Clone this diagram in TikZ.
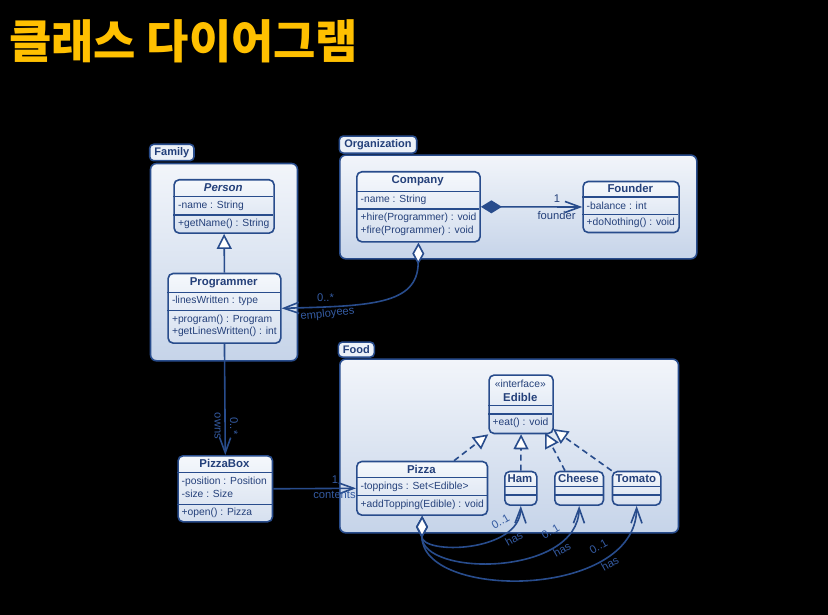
\documentclass[tikz,border=0pt]{standalone}
\usepackage{fontspec}
\usetikzlibrary{arrows.meta,calc}

\newfontfamily\umlfont{Liberation Sans}
\newfontfamily\krfont{Noto Sans CJK KR}

\definecolor{titlegold}{RGB}{255,192,0}
\definecolor{umlblue}{RGB}{40,76,140}
\definecolor{umltext}{RGB}{36,64,122}
\definecolor{lblblue}{RGB}{52,90,160}
\definecolor{pkgtop}{RGB}{242,245,250}
\definecolor{pkgbot}{RGB}{198,212,233}
\definecolor{boxtop}{RGB}{245,248,252}
\definecolor{boxbot}{RGB}{214,224,239}
\definecolor{tabfill}{RGB}{236,241,248}

\newcommand\ufMember{\umlfont\fontsize{10.3}{12.6}\selectfont}
\newcommand\ufName{\umlfont\bfseries\fontsize{11.4}{13.6}\selectfont}
\newcommand\ufLabel{\umlfont\fontsize{11.2}{13}\selectfont}
\newcommand\ufTab{\umlfont\bfseries\fontsize{11}{13}\selectfont}
\newcommand\ufTitle{\krfont\bfseries\fontsize{46}{50}\selectfont}

% class box: name, left, top, right, bottom
\newcommand\umlclass[5]{%
  \node[classbox, anchor=north west, minimum width={#4-#2}, minimum height={#5-#3}] (#1) at (#2,#3) {};}
% compartment divider: left, right, y
\newcommand\umldiv[3]{\draw[divider] (#1,#3) -- (#2,#3);}

\tikzset{
  pkg/.style={draw=umlblue, line width=1.6pt, rounded corners=6pt, top color=pkgtop, bottom color=pkgbot, inner sep=0pt},
  pkgtab/.style={draw=umlblue, line width=1.6pt, rounded corners=4pt, fill=tabfill, font=\ufTab, text=umltext, inner sep=0pt},
  classbox/.style={draw=umlblue, line width=1.6pt, rounded corners=5pt, top color=boxtop, bottom color=boxbot, inner sep=0pt},
  divider/.style={draw=umlblue, line width=1.3pt},
  cname/.style={font=\ufName, text=umltext, inner sep=0pt, align=center},
  member/.style={font=\ufMember, text=umltext, anchor=west, inner sep=0pt, align=left},
  lbl/.style={font=\ufLabel, text=lblblue, inner sep=0pt},
  barb/.tip={Straight Barb[length=15pt,width=11pt]},
  assoc/.style={draw=umlblue, line width=1.6pt, -barb},
  gen/.style={draw=umlblue, line width=1.6pt, -{Triangle[open, length=15pt, width=15pt, fill=white]}},
  real/.style={gen, dash pattern=on 6pt off 4pt},
  compo/.style={draw=umlblue, line width=1.6pt, {Diamond[length=21pt, width=13pt, fill=umlblue]}-barb},
  aggr/.style={draw=umlblue, line width=1.6pt, {Diamond[open, length=22pt, width=12pt, fill=white]}-barb},
}

\begin{document}
\begin{tikzpicture}[x=1pt,y=-1pt]
\fill[black] (0,0) rectangle (828,615);
\useasboundingbox (0,0) rectangle (828,615);

% heading
\node[anchor=west, inner sep=0pt, text=titlegold, font=\ufTitle] (title) at (9,41.5) {클래스 다이어그램};

% ---------- packages ----------
\node[pkg, anchor=north west, minimum width={296.7-149.7}, minimum height={360-162.7}] (family) at (149.7,162.7) {};
\node[pkgtab, minimum width=44.3, minimum height=16.4] (familytab) at (171.85,152.5) {Family};

\node[pkg, anchor=north west, minimum width={696-339}, minimum height={258-154.3}] (organization) at (339,154.3) {};
\node[pkgtab, minimum width=77.4, minimum height=17] (orgtab) at (378,144.6) {Organization};

\node[pkg, anchor=north west, minimum width={677.7-339}, minimum height={532-358.3}] (food) at (339,358.3) {};
\node[pkgtab, minimum width=36, minimum height=15] (foodtab) at (356.3,349.6) {Food};

% ---------- Family ----------
\umlclass{person}{173.3}{179}{273.3}{232.3}
\umldiv{173.3}{273.3}{196.7}
\umldiv{173.3}{273.3}{215}
\node[cname] (person-n) at (223.3,188) {\itshape Person};
\node[member] (person-a) at (178,205.8) {-name : String};
\node[member] (person-o) at (178,223.6) {+getName() : String};

\umlclass{programmer}{167.3}{272.7}{280}{342.3}
\umldiv{167.3}{280}{292.3}
\umldiv{167.3}{280}{310.7}
\node[cname] (programmer-n) at (223.65,282.3) {Programmer};
\node[member] (programmer-a) at (171.8,301) {-linesWritten : type};
\node[member] (programmer-o) at (171.8,326) {+program() : Program\\+getLinesWritten() : int};

% ---------- Organization ----------
\umlclass{company}{356}{171}{479.3}{241}
\umldiv{356}{479.3}{191.7}
\umldiv{356}{479.3}{209}
\node[cname] (company-n) at (417.65,180.8) {Company};
\node[member] (company-a) at (360.5,199.8) {-name : String};
\node[member] (company-o) at (360.5,224.6) {+hire(Programmer) : void\\+fire(Programmer) : void};

\umlclass{founder}{582.3}{180.7}{678.3}{231.7}
\umldiv{582.3}{678.3}{197}
\umldiv{582.3}{678.3}{214.3}
\node[cname] (founder-n) at (630.3,188.8) {Founder};
\node[member] (founder-a) at (586.5,205.7) {-balance : int};
\node[member] (founder-o) at (586.5,222.4) {+doNothing() : void};

% ---------- Food ----------
\umlclass{edible}{488.3}{374.3}{552.3}{432.7}
\umldiv{488.3}{552.3}{405.7}
\umldiv{488.3}{552.3}{414}
\node[font=\ufMember, text=umltext, inner sep=0pt] (edible-s) at (520.3,384) {«interface»};
\node[cname] (edible-n) at (520.3,397.8) {Edible};
\node[member] (edible-o) at (492.5,423.2) {+eat() : void};

\umlclass{pizza}{356}{460.7}{486.7}{514.3}
\umldiv{356}{486.7}{477.3}
\umldiv{356}{486.7}{495.7}
\node[cname] (pizza-n) at (421.35,469) {Pizza};
\node[member] (pizza-a) at (360.5,486.6) {-toppings : Set<Edible>};
\node[member] (pizza-o) at (360.5,505) {+addTopping(Edible) : void};

\umlclass{ham}{504}{470.7}{536}{504.3}
\umldiv{504}{536}{486.7}
\umldiv{504}{536}{495}
\node[cname] (ham-n) at (520,478.9) {Ham};

\umlclass{cheese}{554}{470.7}{602.7}{504.3}
\umldiv{554}{602.7}{486.7}
\umldiv{554}{602.7}{495}
\node[cname] (cheese-n) at (578.35,478.9) {Cheese};

\umlclass{tomato}{611.7}{470.7}{660}{504.3}
\umldiv{611.7}{660}{486.7}
\umldiv{611.7}{660}{495}
\node[cname] (tomato-n) at (635.85,478.9) {Tomato};

% ---------- PizzaBox ----------
\umlclass{pizzabox}{177.3}{455}{271.7}{521}
\umldiv{177.3}{271.7}{472.3}
\umldiv{177.3}{271.7}{504.5}
\node[cname] (pizzabox-n) at (224.5,463.6) {PizzaBox};
\node[member] (pizzabox-a) at (181.5,487.5) {-position : Position\\-size : Size};
\node[member] (pizzabox-o) at (181.5,512.5) {+open() : Pizza};

% ---------- connector end points ----------
\coordinate (pizza-r) at (454,460.7);
\coordinate (cheese-r) at (565,470.7);
\coordinate (edible-c) at (545,432.7);
\coordinate (edible-t) at (553,429);

% ---------- connectors ----------
\draw[gen] (programmer.north) -- (person.south);
\draw[compo] (company.east) -- (founder.west);
\draw[aggr] (company.south) .. controls (417.65,305) and (370,306) .. (programmer.east);
\draw[assoc] (programmer.south) -- (pizzabox.north);
\draw[assoc] (pizzabox.east) -- (pizza.west);

\draw[real] (pizza-r) -- (edible.south west);
\draw[real] (ham.north) -- (edible.south);
\draw[real] (cheese-r) -- (edible-c);
\draw[real] (tomato.north west) -- (edible-t);

\draw[aggr] (pizza.south) .. controls (421.35,555) and (520,553) .. (ham.south);
\draw[aggr] (pizza.south) .. controls (421.35,577) and (578.35,577) .. (cheese.south);
\draw[aggr] (pizza.south) .. controls (421.35,600) and (635.85,600) .. (tomato.south);

% ---------- connector labels ----------
\node[lbl, text=umltext] (founder-m) at (557,198.5) {1};
\node[lbl, text=umltext] (founder-r) at (556.5,215) {founder};
\node[lbl] (emp-m) at (325.5,298) {0..*};
\node[lbl, rotate=6] (emp-r) at (327.5,314) {employees};
\node[lbl, rotate=-90] (owns-r) at (217.5,426) {owns};
\node[lbl, rotate=-90] (owns-m) at (234,426) {0..*};
\node[lbl] (cont-m) at (335,479.5) {1};
\node[lbl] (cont-r) at (334.5,495) {contents};
\node[lbl, rotate=30] (ham-m) at (500.5,521.5) {0..1};
\node[lbl, rotate=30] (ham-r) at (514,539) {has};
\node[lbl, rotate=30] (cheese-m) at (550.5,531.5) {0..1};
\node[lbl, rotate=30] (cheese-r2) at (562,550) {has};
\node[lbl, rotate=30] (tomato-m) at (598.5,546.5) {0..1};
\node[lbl, rotate=30] (tomato-r) at (610,564) {has};
\end{tikzpicture}
\end{document}
